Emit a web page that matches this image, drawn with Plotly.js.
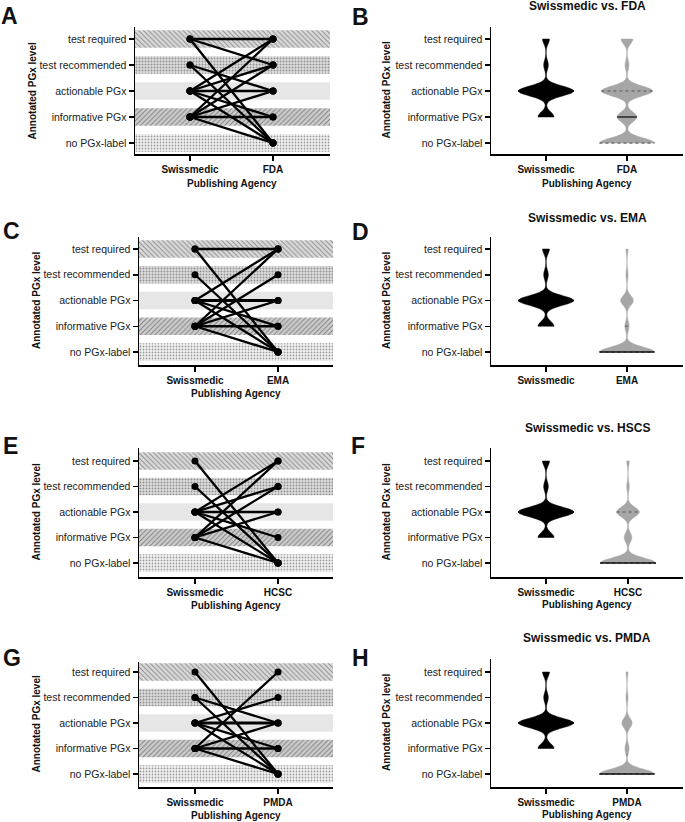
<!DOCTYPE html>
<html><head><meta charset="utf-8">
<script src="https://cdn.plot.ly/plotly-3.0.1.min.js"></script>
<style>html,body{margin:0;padding:0;background:#fff}</style>
</head><body><div id="chart" style="width:685px;height:822px"></div>
<script>
// ---------------- DATA ----------------
const levelLabels = ['no PGx-label', 'informative PGx', 'actionable PGx', 'test recommended', 'test required'];
const levelValues = [0, 1, 2, 3, 4];
const referenceAgency = 'Swissmedic';
const comparedAgencies = ['FDA', 'EMA', 'HCSC', 'PMDA'];
const violinTitles = ['Swissmedic vs. FDA', 'Swissmedic vs. EMA', 'Swissmedic vs. HSCS', 'Swissmedic vs. PMDA'];
const lineLetters = ['A', 'C', 'E', 'G'];
const violinLetters = ['B', 'D', 'F', 'H'];
const xAxisTitle = 'Publishing Agency';
const yAxisTitle = 'Annotated PGx level';

// connections: [Swissmedic level, agency level, weight]
const pairsFDA = [[4,4,1],[4,3,1],[4,0,1],[3,2,1],[3,0,1],[2,4,1],[2,3,1],[2,2,1],[2,1,1],[2,0,1],[1,4,1],[1,3,1],[1,2,1],[1,1,1],[1,0,1]];
const pairsEMA = [[4,4,1],[4,0,1],[3,0,1],[2,4,1],[2,2,2],[2,1,1],[2,0,1],[1,4,1],[1,3,1],[1,2,1],[1,1,1],[1,0,1]];
const pairsHCSC = [[4,0,1],[3,0,1],[2,4,1],[2,3,1],[2,2,1],[2,1,1],[2,0,1],[1,4,1],[1,3,1],[1,2,1],[1,0,1]];
const pairsPMDA = [[4,0,1],[3,2,1],[3,0,1],[2,3,1],[2,2,2],[2,1,1],[2,0,1],[1,4,1],[1,2,1],[1,1,1],[1,0,1]];

// number of drugs per level (index 0 = no PGx-label ... 4 = test required)
const countsSwissmedic = [0, 7, 24, 2, 3];
const countsFDA = [14, 5, 13, 1, 3];
const countsEMA = [26, 2, 6, 1, 1];
const countsHCSC = [22, 3, 9, 1, 1];
const countsPMDA = [27, 2, 5, 1, 1];

// ---------------- LAYOUT / STYLE ----------------
const W = 685, H = 822;
const FONT = 'Liberation Sans, Arial, Helvetica, sans-serif';
const pairsList = [pairsFDA, pairsEMA, pairsHCSC, pairsPMDA];
const countsList = [countsFDA, countsEMA, countsHCSC, countsPMDA];

const lineGeom = [
  {L:135, R:330, T:27,  B:154, y4:39,  y0:143, xs:190, xa:273},
  {L:139, R:333, T:237, B:365, y4:249, y0:352, xs:195, xa:278},
  {L:139, R:333, T:448, B:577, y4:461, y0:563, xs:195, xa:278},
  {L:139, R:333, T:662, B:787, y4:672, y0:774, xs:195, xa:278}];
const violinGeom = [
  {L:491, R:683, T:27,  B:154, y4:39,  y0:143, xs:546, xa:627},
  {L:491, R:683, T:237, B:365, y4:249, y0:352, xs:546, xa:627},
  {L:491, R:683, T:448, B:577, y4:461, y0:563, xs:546, xa:628},
  {L:491, R:683, T:659, B:787, y4:672, y0:774, xs:546, xa:627}];

const bandStyles = [
  {shape:'.',  bg:'#f3f3f3', fg:'#c2c2c2', size:3,   sol:0.3},
  {shape:'/',  bg:'#cdcdcd', fg:'#676767', size:3.5, sol:0.33},
  {shape:'',   bg:'#e6e6e6', fg:'#e6e6e6', size:4,   sol:0.3},
  {shape:'.',  bg:'#dedede', fg:'#a6a6a6', size:3,   sol:0.35},
  {shape:'\\', bg:'#dbdbdb', fg:'#909090', size:3.5, sol:0.3}];

const BW = 0.1875;     // kde bandwidth
const VW = 0.68;       // violin full width (axis units)
const GRAY = '#a6a6a6';

const layout = {
  width: W, height: H, margin: {l:0, r:0, t:0, b:0},
  paper_bgcolor: '#fff', plot_bgcolor: 'rgba(0,0,0,0)',
  showlegend: false, hovermode: false, violinmode: 'overlay', barmode: 'overlay',
  font: {family: FONT, color: '#222'},
  annotations: []
};
const data = [];

function px(x) { return x / W; }
function py(y) { return 1 - y / H; }
function ann(text, x, y, size, opts) {
  layout.annotations.push(Object.assign({
    text: text, x: px(x), y: py(y), xref: 'paper', yref: 'paper',
    xanchor: 'center', yanchor: 'middle', showarrow: false,
    font: {family: FONT, size: size, color: '#111', weight: 700}
  }, opts || {}));
}

function setAxes(idx, g, agency) {
  const ux = g.xa - g.xs, uy = (g.y0 - g.y4) / 4;
  const xr = [(g.L - g.xs) / ux, (g.R - g.xs) / ux];
  const yr = [-(g.B - g.y0) / uy, 4 + (g.y4 - g.T) / uy];
  const xk = idx === 1 ? 'xaxis' : 'xaxis' + idx;
  const yk = idx === 1 ? 'yaxis' : 'yaxis' + idx;
  layout[xk] = {
    type: 'linear', domain: [px(g.L), px(g.R)], range: xr, anchor: 'y' + (idx === 1 ? '' : idx),
    tickvals: [0, 1], ticktext: [referenceAgency, agency],
    tickfont: {family: FONT, size: 10, color: '#111', weight: 700},
    ticks: 'outside', ticklen: 5, tickwidth: 1.5, tickcolor: '#000',
    showline: true, linewidth: 1.5, linecolor: '#000', showgrid: false, zeroline: false, fixedrange: true
  };
  layout[yk] = {
    type: 'linear', domain: [py(g.B), py(g.T)], range: yr, anchor: 'x' + (idx === 1 ? '' : idx),
    tickvals: levelValues, ticktext: levelLabels,
    tickfont: {family: FONT, size: 10.5, color: '#222'},
    ticks: 'outside', ticklen: 5, tickwidth: 1.5, tickcolor: '#000',
    showline: true, linewidth: 1.5, linecolor: '#000', showgrid: false, zeroline: false, fixedrange: true
  };
  return {xr: xr, yr: yr, xa: 'x' + (idx === 1 ? '' : idx), ya: 'y' + (idx === 1 ? '' : idx)};
}

// ---------- line (connection) panels ----------
comparedAgencies.forEach(function (agency, i) {
  const g = lineGeom[i];
  const ax = setAxes(2 * i + 1, g, agency);
  data.push({
    type: 'bar', orientation: 'h', y: levelValues,
    x: levelValues.map(function () { return ax.xr[1] - ax.xr[0]; }),
    base: ax.xr[0], width: 0.68, xaxis: ax.xa, yaxis: ax.ya, hoverinfo: 'skip',
    marker: {
      color: bandStyles.map(function (s) { return s.bg; }), line: {width: 0},
      pattern: {
        shape: bandStyles.map(function (s) { return s.shape; }),
        fgcolor: bandStyles.map(function (s) { return s.fg; }),
        size: bandStyles.map(function (s) { return s.size; }),
        solidity: bandStyles.map(function (s) { return s.sol; }),
        fillmode: 'overlay'
      }
    }
  });
  pairsList[i].forEach(function (p) {
    data.push({
      type: 'scatter', mode: 'lines+markers', x: [0, 1], y: [p[0], p[1]],
      xaxis: ax.xa, yaxis: ax.ya, hoverinfo: 'skip', cliponaxis: false,
      line: {color: '#000', width: 1.5 + 0.8 * p[2]},
      marker: {color: '#000', size: 7}
    });
  });
  ann(lineLetters[i], [9, 11, 10, 12][i], [16, 231, 446, 658][i], 23);
  ann(yAxisTitle, [32, 36, 36, 36][i], (g.T + g.B) / 2, 10, {textangle: -90});
  ann(xAxisTitle, (g.L + g.R) / 2, [183, 393, 605, 815][i], 10);
});

// ---------- violin panels ----------
function sampleFrom(counts) {
  return counts.reduce(function (arr, c, lvl) { for (let k = 0; k < c; k++) arr.push(lvl); return arr; }, []);
}
function kde(vals, y) {
  let s = 0;
  vals.forEach(function (v) { const z = (y - v) / BW; s += Math.exp(-0.5 * z * z); });
  return s;
}
function maxKde(vals) {
  const lo = Math.min.apply(null, vals), hi = Math.max.apply(null, vals);
  const n = Math.ceil((hi - lo) / (BW / 3)), step = (hi - lo) / n;
  let m = 0;
  for (let k = 0; k <= n; k++) m = Math.max(m, kde(vals, lo + k * step));
  return m;
}
function quantile(sorted, p) {
  const n = sorted.length, pos = (n + 1) * p;
  const lo = Math.min(Math.max(Math.floor(pos), 1), n), hi = Math.min(Math.max(Math.ceil(pos), 1), n);
  const a = sorted[lo - 1], b = sorted[hi - 1];
  return a + (b - a) * (pos - Math.floor(pos));
}
function addViolin(vals, xpos, color, ax, medColor, qColor) {
  data.push({
    type: 'violin', x0: xpos, y: vals, spanmode: 'hard', bandwidth: BW,
    scalemode: 'width', width: VW, side: 'both',
    fillcolor: color, line: {color: color, width: 0.5},
    points: false, box: {visible: false}, meanline: {visible: false},
    xaxis: ax.xa, yaxis: ax.ya, hoverinfo: 'skip', name: String(xpos)
  });
  const sorted = vals.slice().sort(function (a, b) { return a - b; });
  const m = maxKde(vals);
  [[0.25, 'dot'], [0.75, 'dot'], [0.5, 'solid']].forEach(function (q) {
    const yv = quantile(sorted, q[0]);
    const hw = VW / 2 * kde(vals, yv) / m;
    data.push({
      type: 'scatter', mode: 'lines', x: [xpos - hw, xpos + hw], y: [yv, yv],
      xaxis: ax.xa, yaxis: ax.ya, hoverinfo: 'skip', cliponaxis: false,
      line: {color: q[1] === 'solid' ? medColor : qColor, width: 1.3, dash: q[1]}
    });
  });
}

comparedAgencies.forEach(function (agency, i) {
  const g = violinGeom[i];
  const ax = setAxes(2 * i + 2, g, agency);
  addViolin(sampleFrom(countsSwissmedic), 0, '#000', ax, '#000', '#000');
  addViolin(sampleFrom(countsList[i]), 1, GRAY, ax, '#111', '#707070');
  ann(violinLetters[i], [360, 360, 358, 360][i], [17, 232, 446, 658][i], 23);
  ann(violinTitles[i], (g.L + g.R) / 2, [6, 218, 428, 638][i], 12);
  ann(yAxisTitle, 386, (g.T + g.B) / 2, 10, {textangle: -90});
  if (i !== 1) ann(xAxisTitle, (g.L + g.R) / 2, [183, 393, 604, 814][i], 10);
});

Plotly.newPlot('chart', data, layout, {staticPlot: true, displayModeBar: false});
</script>
</body></html>
